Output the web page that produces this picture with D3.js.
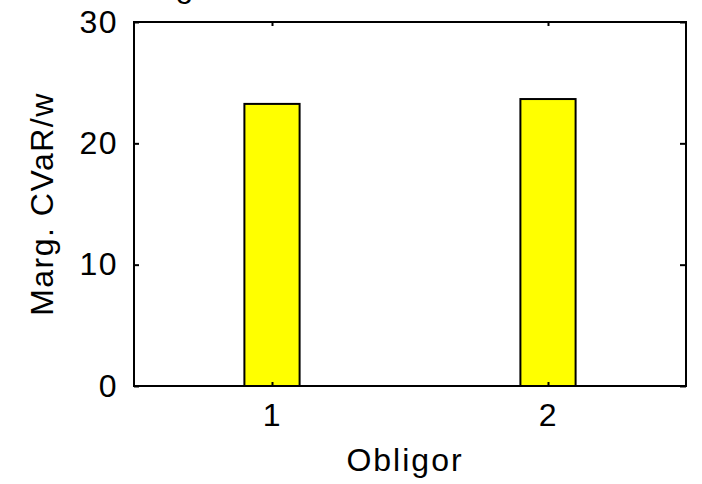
<!DOCTYPE html>
<html>
<head>
<meta charset="utf-8">
<script src="https://cdn.jsdelivr.net/npm/d3@7/dist/d3.min.js"></script>
<style>
  html, body { margin: 0; padding: 0; background: #fff; }
  svg { display: block; }
  text { font-family: "Liberation Sans", Arial, sans-serif; fill: #000; }
</style>
</head>
<body>
<svg id="chart" width="702" height="484"></svg>
<script>
// Marginal CVaR per unit weight for each obligor
const obligors = [1, 2];
const margCVaR = [23.25, 23.65];
const yTicks = [0, 10, 20, 30];
const xTicks = [1, 2];

const svg = d3.select("#chart");
const plotLeft = 134, plotRight = 686, plotTop = 22, plotBottom = 386;
const fontSize = 32;

const x = d3.scaleLinear().domain([0.5, 2.5]).range([plotLeft, plotRight]);
const y = d3.scaleLinear().domain([0, 30]).range([plotBottom, plotTop]);
const barW = x(0.2) - x(0);

// bars
svg.append("g").selectAll("rect")
  .data(obligors)
  .join("rect")
  .attr("x", (d) => x(d) - barW / 2)
  .attr("y", (d, i) => y(margCVaR[i]))
  .attr("width", barW)
  .attr("height", (d, i) => y(0) - y(margCVaR[i]))
  .attr("fill", "#ffff00")
  .attr("stroke", "#000")
  .attr("stroke-width", 2);

// axes: ticks point inward and are mirrored on the opposite sides
const tickStyle = (g) => {
  g.select(".domain").remove();
  g.selectAll(".tick line").attr("stroke", "#000").attr("stroke-width", 2);
  g.selectAll(".tick text")
    .style("font-size", fontSize + "px")
    .style("letter-spacing", "1.5px");
};

svg.append("g")
  .attr("transform", `translate(${plotLeft},0)`)
  .call(d3.axisLeft(y).tickValues(yTicks).tickSizeInner(-5).tickPadding(16))
  .call(tickStyle);

svg.append("g")
  .attr("transform", `translate(${plotRight},0)`)
  .call(d3.axisRight(y).tickValues(yTicks).tickSizeInner(-6).tickFormat(""))
  .call(tickStyle);

svg.append("g")
  .attr("transform", `translate(0,${plotBottom})`)
  .call(d3.axisBottom(x).tickValues(xTicks).tickSizeInner(-4).tickPadding(17).tickFormat(d3.format("d")))
  .call(tickStyle);

svg.append("g")
  .attr("transform", `translate(0,${plotTop})`)
  .call(d3.axisTop(x).tickValues(xTicks).tickSizeInner(-4).tickFormat(""))
  .call(tickStyle);

// frame
svg.append("rect")
  .attr("x", plotLeft).attr("y", plotTop)
  .attr("width", plotRight - plotLeft).attr("height", plotBottom - plotTop)
  .attr("fill", "none")
  .attr("stroke", "#000")
  .attr("stroke-width", 2);

// axis labels
svg.append("text")
  .attr("x", (plotLeft + plotRight) / 2 - 5)
  .attr("y", 471)
  .attr("text-anchor", "middle")
  .style("font-size", fontSize + "px")
  .style("letter-spacing", "2px")
  .text("Obligor");

svg.append("text")
  .attr("transform", `translate(53,${(plotTop + plotBottom) / 2}) rotate(-90)`)
  .attr("text-anchor", "middle")
  .style("font-size", fontSize + "px")
  .style("letter-spacing", "1.5px")
  .text("Marg. CVaR/w");

// title, mostly above the visible area
svg.append("text")
  .attr("x", 116)
  .attr("y", -3)
  .style("font-size", fontSize + "px")
  .style("letter-spacing", "1.5px")
  .text("Marginal CVaR");
</script>
</body>
</html>
